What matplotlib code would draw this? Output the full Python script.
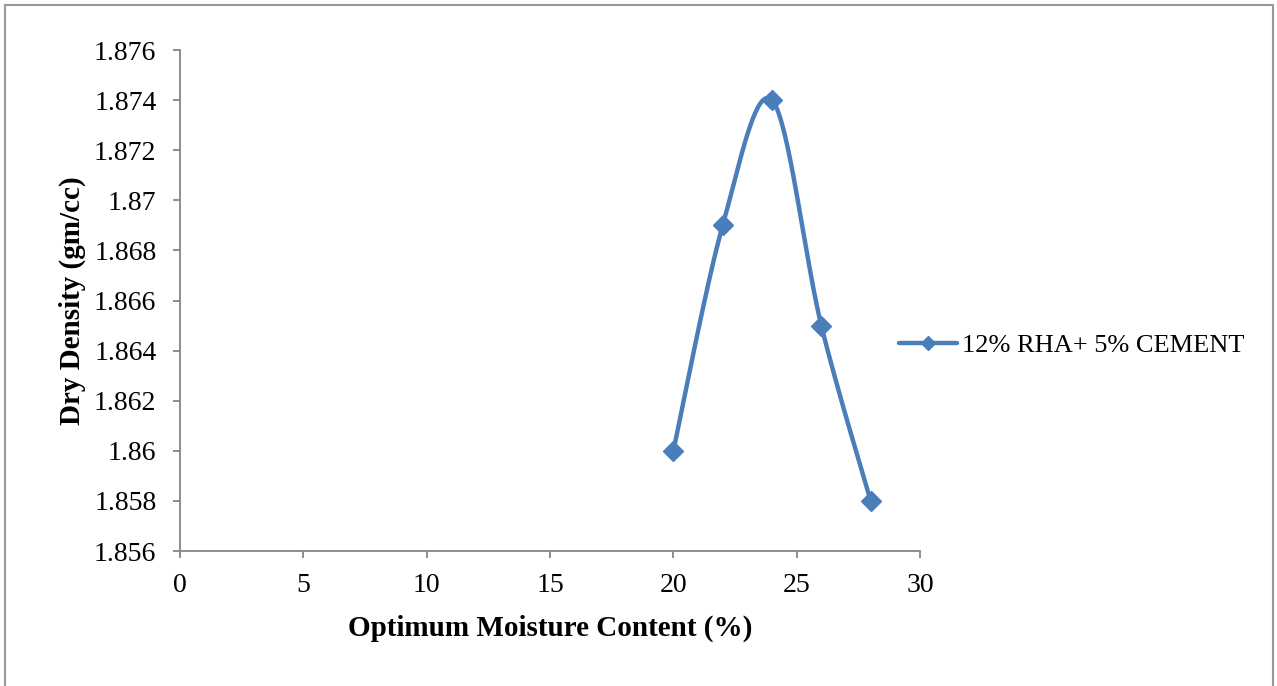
import numpy as np
import matplotlib
matplotlib.use("Agg")
from matplotlib import pyplot as plt
from matplotlib.lines import Line2D

plt.rcParams['font.family'] = ['Liberation Serif', 'DejaVu Serif']

# data
moisture = [20, 22, 24, 26, 28]
density = [1.860, 1.869, 1.874, 1.865, 1.858]
series_name = '12% RHA+ 5% CEMENT'
xticks = [0, 5, 10, 15, 20, 25, 30]
yticks = [1.856, 1.858, 1.86, 1.862, 1.864, 1.866, 1.868, 1.87, 1.872, 1.874, 1.876]
ytick_labels = ['1.856', '1.858', '1.86', '1.862', '1.864', '1.866', '1.868', '1.87',
                '1.872', '1.874', '1.876']

blue = '#4A7EBB'
grey = '#868686'


# excel style smoothing: bezier between points, control points from neighbours
def smooth(x, y, n=40):
    p = np.column_stack([x, y]).astype(float)
    p = np.vstack([p[0], p, p[-1]])
    out = []
    for i in range(1, len(p) - 2):
        p0, p1, p2, p3 = p[i - 1], p[i], p[i + 1], p[i + 2]
        c1 = p1 + (p2 - p0) / 6.0
        c2 = p2 - (p3 - p1) / 6.0
        t = np.linspace(0, 1, n)[:, None]
        seg = ((1 - t) ** 3) * p1 + 3 * ((1 - t) ** 2) * t * c1 + 3 * (1 - t) * t ** 2 * c2 + t ** 3 * p2
        out.append(seg)
    out = np.vstack(out)
    return out[:, 0], out[:, 1]


fig = plt.figure(figsize=(12.77, 6.86), dpi=100)
ax = fig.add_axes([0.14096, 0.19679, 0.57948, 0.73032])

sx, sy = smooth(moisture, density)
ax.plot(sx, sy, color=blue, lw=3.2, solid_capstyle='round', zorder=2)
ax.plot(moisture, density, 'D', color=blue, ms=10.5, zorder=3)

ax.set_xlim(0, 30)
ax.set_ylim(1.856, 1.876)
ax.set_xticks(xticks)
ax.set_yticks(yticks)
ax.set_yticklabels(ytick_labels)
for s in ['top', 'right']:
    ax.spines[s].set_visible(False)
for s in ['left', 'bottom']:
    ax.spines[s].set_color(grey)
    ax.spines[s].set_linewidth(1.3)
ax.tick_params(direction='out', length=5, width=1.3, color=grey, labelsize=20)
ax.tick_params(axis='y', pad=12)
ax.tick_params(axis='x', pad=11)

ax.set_xlabel('Optimum Moisture Content (%)', fontsize=21, fontweight='bold', labelpad=12)
ax.set_ylabel('Dry Density (gm/cc)', fontsize=21, fontweight='bold', labelpad=5.5)

handle = Line2D([], [], color=blue, lw=3.2, marker='D', ms=7, solid_capstyle='round')
ax.legend([handle], [series_name], loc='center left', bbox_to_anchor=(0.6957, 0.497),
          bbox_transform=fig.transFigure, frameon=False, fontsize=19,
          handlelength=2.2, handletextpad=0.2, borderaxespad=0)

# outer chart border
fig.add_artist(Line2D([0.004, 0.004], [0, 0.993], color='#999999', lw=1.5, transform=fig.transFigure))
fig.add_artist(Line2D([0.004, 0.997], [0.993, 0.993], color='#999999', lw=1.5, transform=fig.transFigure))
fig.add_artist(Line2D([0.997, 0.997], [0, 0.993], color='#999999', lw=1.5, transform=fig.transFigure))

fig.savefig('out.png', dpi=100)
